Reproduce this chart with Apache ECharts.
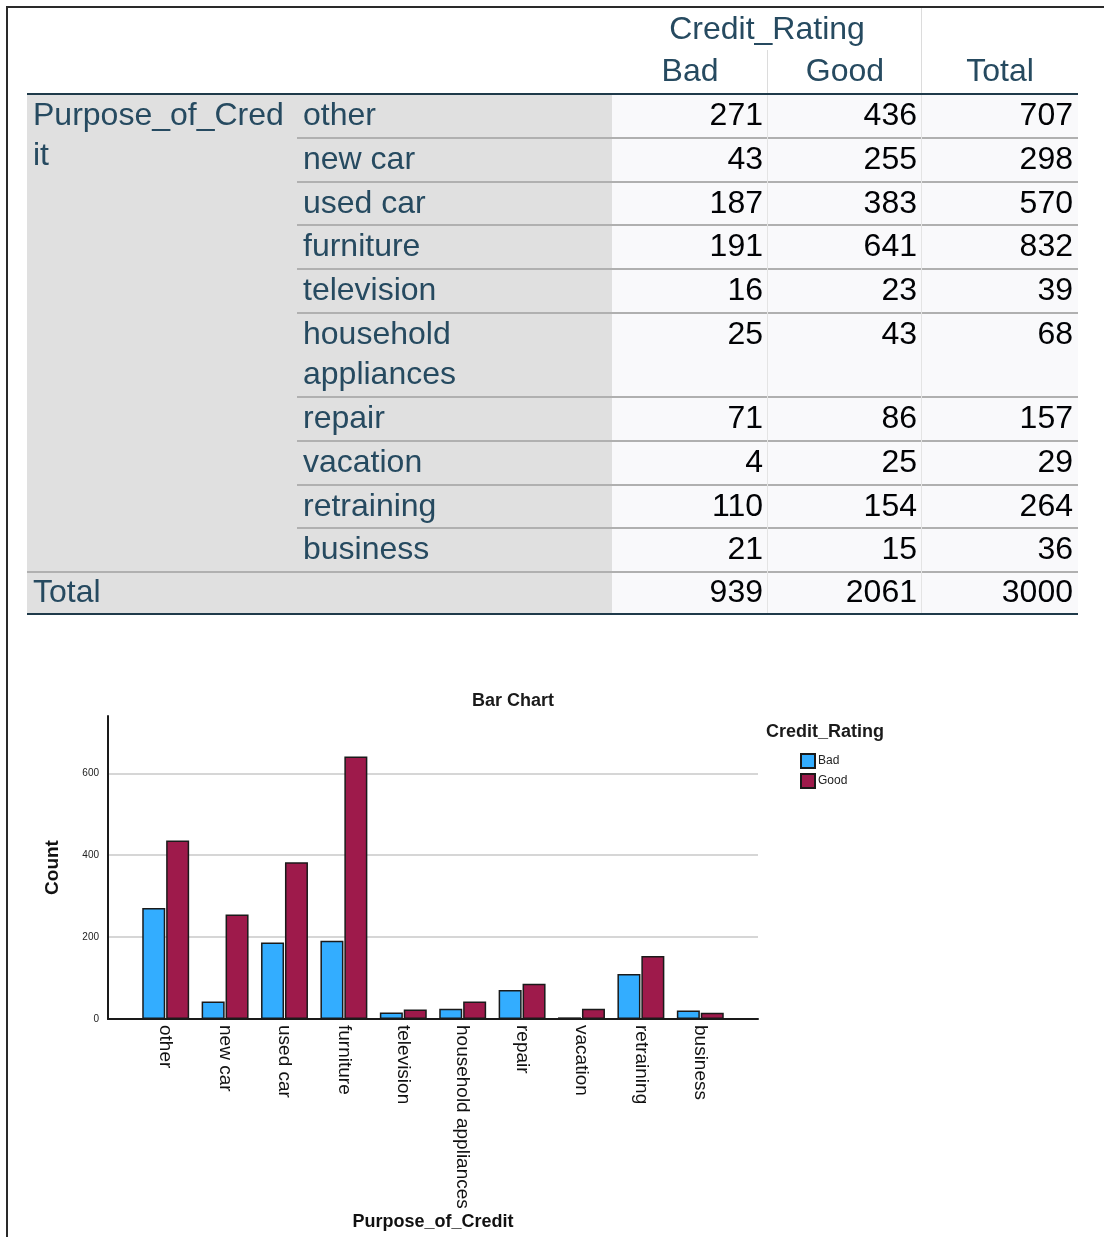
<!DOCTYPE html>
<html>
<head>
<meta charset="utf-8">
<script src="https://cdn.jsdelivr.net/npm/echarts@6/dist/echarts.min.js"></script>
<style>
  html, body { margin: 0; padding: 0; background: #fff; overflow: hidden; }
  #page { position: relative; width: 1104px; height: 1237px; font-family: "Liberation Sans", Arial, sans-serif; }
  #frame { position: absolute; left: 6px; top: 6px; width: 1200px; height: 1300px; border: 2px solid #2a2a2a; box-sizing: border-box; }
  #chart { position: absolute; left: 0; top: 0; width: 1104px; height: 1237px; }
  #table { position: absolute; left: 0; top: 0; width: 1104px; height: 640px; }
  .cell { position: absolute; box-sizing: border-box; font-size: 32px; white-space: nowrap; }
  .lbl { color: #264a60; }
  .num { color: #010205; text-align: right; }
</style>
</head>
<body>
<div id="page">
  <div id="frame"></div>
  <div id="chart"></div>
  <div id="table"></div>
</div>
<script>
// 交叉表数据
var purposes = ['other', 'new car', 'used car', 'furniture', 'television', 'household appliances', 'repair', 'vacation', 'retraining', 'business'];
var ratings = ['Bad', 'Good'];
var badCounts = [271, 43, 187, 191, 16, 25, 71, 4, 110, 21];
var goodCounts = [436, 255, 383, 641, 23, 43, 86, 25, 154, 15];
var rowTotals = [707, 298, 570, 832, 39, 68, 157, 29, 264, 36];
var colTotals = [939, 2061, 3000];
var yMax = 740;
var yStep = 200;

// 表格 (SPSS 样式)
var tbl = document.getElementById('table');
function box(x, y, w, h, css, html, cls) {
    var d = document.createElement('div');
    d.className = cls || '';
    d.style.cssText = 'left:' + x + 'px;top:' + y + 'px;width:' + w + 'px;height:' + h + 'px;' + (css || '');
    if (!cls) d.style.position = 'absolute';
    if (html != null) d.innerHTML = html;
    tbl.appendChild(d);
    return d;
}
var colX = [612, 768, 922, 1078];
var top0 = 94, rowH = 43.8, dblH = 84, bottom = 614;

// 背景
box(27, top0, 585, bottom - top0, 'background:#e0e0e0');
box(612, top0, 466, bottom - top0, 'background:#f9f9fb');
// 表头
box(612, 8, 310, 40, 'text-align:center;line-height:40px;', 'Credit_Rating', 'cell lbl');
ratings.concat(['Total']).forEach(function (t, i) {
    box(colX[i], 50, colX[i + 1] - colX[i], 40, 'text-align:center;line-height:40px;', t, 'cell lbl');
});
box(767, 50, 1, top0 - 50, 'background:#dcdcdc');
box(921, 8, 1, top0 - 8, 'background:#dcdcdc');

// 行
var y = top0;
box(27, top0, 270, 100, 'line-height:40px;padding:0 0 0 6px;', 'Purpose_of_Cred<br>it', 'cell lbl');
purposes.forEach(function (p, i) {
    var h = p.length > 15 ? dblH : rowH;
    var lh = p.length > 15 ? 'line-height:40px;white-space:normal;' : 'line-height:' + (rowH - 2) + 'px;';
    box(297, y, 250, h, lh + 'padding-left:6px;', p, 'cell lbl');
    [badCounts[i], goodCounts[i], rowTotals[i]].forEach(function (v, j) {
        box(colX[j], y, colX[j + 1] - colX[j], h, lh + 'padding-right:5px;', v, 'cell num');
    });
    if (i > 0) box(297, y - 1, 781, 2, 'background:#b0b0b0');
    y += h;
});
box(27, y - 1, 1051, 2, 'background:#b0b0b0');
box(27, y, 270, bottom - y, 'line-height:' + (bottom - y - 2) + 'px;padding-left:6px;', 'Total', 'cell lbl');
colTotals.forEach(function (v, j) {
    box(colX[j], y, colX[j + 1] - colX[j], bottom - y, 'line-height:' + (bottom - y - 2) + 'px;padding-right:5px;', v, 'cell num');
});
box(767, top0, 1, bottom - top0, 'background:#e4e4e4');
box(921, top0, 1, bottom - top0, 'background:#e4e4e4');
box(27, top0 - 1, 1051, 2, 'background:#1f3a4a');
box(27, bottom - 1, 1051, 2, 'background:#1f3a4a');

// 条形图
var font = '"Liberation Sans", Arial, sans-serif';
var myChart = echarts.init(document.getElementById('chart'));
myChart.setOption({
    animation: false,
    textStyle: { fontFamily: font },
    title: [{
        text: 'Bar Chart', left: 508, top: 687, textAlign: 'center',
        textStyle: { fontSize: 18, fontWeight: 'bold', color: '#1a1a1a', fontFamily: font }
    }, {
        text: 'Credit_Rating', left: 761, top: 718,
        textStyle: { fontSize: 18, fontWeight: 'bold', color: '#1a1a1a', fontFamily: font }
    }],
    legend: {
        orient: 'vertical', left: 795, top: 748, itemWidth: 14, itemHeight: 14, itemGap: 4,
        icon: 'rect', data: ratings,
        textStyle: { fontSize: 12, color: '#222', padding: [0, 0, 0, -2] }
    },
    grid: [
        { left: 108, top: 716, width: 650, height: 303 },
        { left: 136, top: 716, width: 594, height: 303 }
    ],
    xAxis: [{
        type: 'value', gridIndex: 0, min: 0, max: 1,
        axisLine: { show: true, lineStyle: { color: '#1a1a1a', width: 2 } },
        axisTick: { show: false }, axisLabel: { show: false }, splitLine: { show: false }
    }, {
        type: 'category', gridIndex: 1, data: purposes,
        axisLine: { show: false }, axisTick: { show: false },
        axisLabel: { rotate: -90, fontSize: 19, color: '#111', margin: 6, interval: 0 },
        name: 'Purpose_of_Credit', nameLocation: 'middle', nameGap: 194,
        nameTextStyle: { fontSize: 18, fontWeight: 'bold', color: '#111' }
    }],
    yAxis: [{
        type: 'value', gridIndex: 0, min: 0, max: yMax, interval: yStep,
        axisLine: { show: true, lineStyle: { color: '#1a1a1a', width: 2 } },
        axisTick: { show: false },
        axisLabel: { fontSize: 10, color: '#222', margin: 9, showMaxLabel: false },
        splitLine: { lineStyle: { color: ['#d6d6d6', '#d6d6d6', '#d6d6d6', '#d6d6d6', 'rgba(0,0,0,0)'], width: 2 } },
        name: 'Count', nameLocation: 'middle', nameGap: 46,
        nameTextStyle: { fontSize: 19, fontWeight: 'bold', color: '#111' }
    }, {
        type: 'value', gridIndex: 1, min: 0, max: yMax, show: false
    }],
    series: [{
        name: 'Bad', type: 'bar', xAxisIndex: 1, yAxisIndex: 1, data: badCounts,
        barWidth: 23, barGap: '4%',
        itemStyle: { color: '#33adff', borderColor: '#1a1a1a', borderWidth: 1.5 }
    }, {
        name: 'Good', type: 'bar', xAxisIndex: 1, yAxisIndex: 1, data: goodCounts,
        barWidth: 23, barGap: '4%',
        itemStyle: { color: '#9e1a4b', borderColor: '#1a1a1a', borderWidth: 1.5 }
    }]
});
</script>
</body>
</html>
